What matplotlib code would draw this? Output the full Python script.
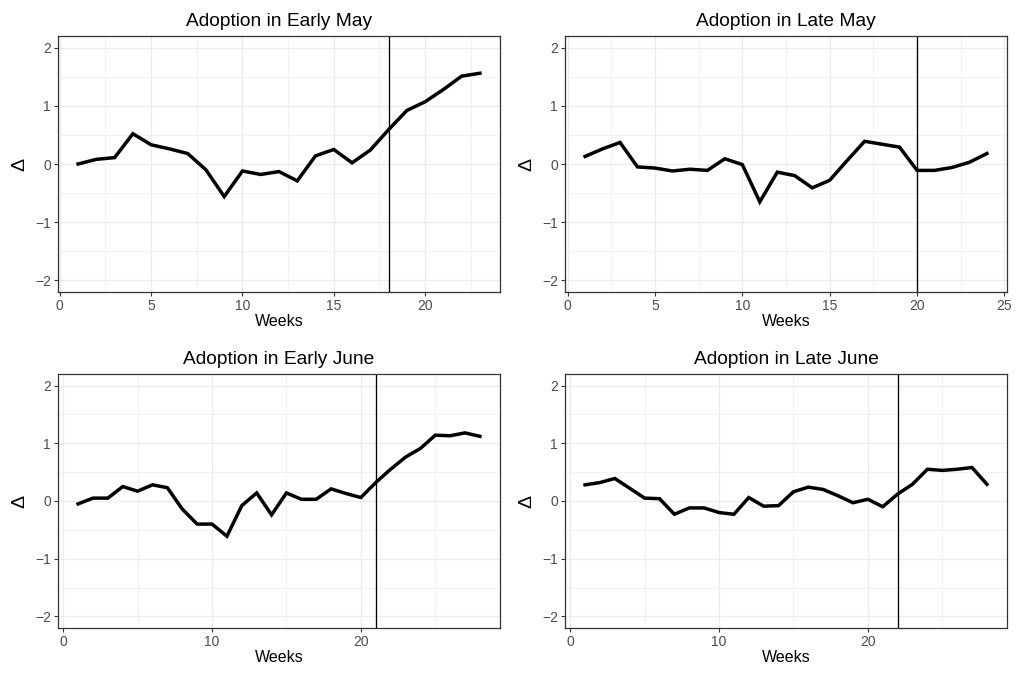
import numpy as np
import matplotlib
matplotlib.use("Agg")
import matplotlib.pyplot as plt
from matplotlib.ticker import MultipleLocator

plt.rcParams["font.family"] = ["Liberation Sans", "DejaVu Sans"]

# Delta by week for each adoption cohort
titles = ["Adoption in Early May", "Adoption in Late May",
          "Adoption in Early June", "Adoption in Late June"]

early_may = [0.00, 0.08, 0.11, 0.52, 0.33, 0.26, 0.18, -0.10, -0.56, -0.12,
             -0.18, -0.13, -0.29, 0.14, 0.25, 0.02, 0.24, 0.59, 0.92, 1.07,
             1.28, 1.51, 1.56]
late_may = [0.13, 0.26, 0.37, -0.05, -0.07, -0.12, -0.09, -0.11, 0.09, -0.01,
            -0.65, -0.14, -0.20, -0.41, -0.28, 0.06, 0.39, 0.34, 0.29, -0.11,
            -0.11, -0.06, 0.03, 0.18]
early_june = [-0.05, 0.05, 0.05, 0.25, 0.17, 0.28, 0.23, -0.14, -0.40, -0.40,
              -0.61, -0.08, 0.14, -0.24, 0.14, 0.03, 0.03, 0.21, 0.13, 0.06,
              0.32, 0.55, 0.76, 0.91, 1.14, 1.13, 1.18, 1.12]
late_june = [0.28, 0.32, 0.39, 0.22, 0.05, 0.04, -0.23, -0.12, -0.12, -0.20,
             -0.23, 0.06, -0.09, -0.08, 0.16, 0.24, 0.20, 0.09, -0.03, 0.03,
             -0.10, 0.12, 0.29, 0.55, 0.53, 0.55, 0.58, 0.29]

series = [early_may, late_may, early_june, late_june]
adoption_week = [18, 20, 21, 22]
x_step = [5, 5, 10, 10]

W, H = 1016, 673
fig = plt.figure(figsize=(W / 100, H / 100), dpi=100)

# panel boxes in pixels: left, top, right, bottom
boxes = [(58, 36, 500, 292), (565, 36, 1007, 292),
         (58, 374, 500, 628), (565, 374, 1007, 628)]

for i in range(4):
    l, t, r, b = boxes[i]
    ax = fig.add_axes([l / W, 1 - b / H, (r - l) / W, (b - t) / H])
    y = np.array(series[i])
    x = np.arange(1, len(y) + 1)

    ax.plot(x, y, color="black", lw=2.5, solid_joinstyle="miter", zorder=3)
    ax.axvline(adoption_week[i], color="black", lw=0.95, zorder=2)

    span = x[-1] - x[0]
    ax.set_xlim(x[0] - 0.05 * span, x[-1] + 0.05 * span)
    ax.set_ylim(-2.2, 2.2)
    ax.xaxis.set_major_locator(MultipleLocator(x_step[i]))
    ax.xaxis.set_minor_locator(MultipleLocator(x_step[i] / 2))
    ax.yaxis.set_major_locator(MultipleLocator(1))
    ax.yaxis.set_minor_locator(MultipleLocator(0.5))
    ax.yaxis.set_major_formatter(plt.FuncFormatter(
        lambda v, p: ("\u2212%d" % -v) if v < 0 else "%d" % v))

    ax.grid(which="major", color="#EBEBEB", lw=1.0, zorder=0)
    ax.grid(which="minor", color="#F2F2F2", lw=0.8, zorder=0)
    ax.set_axisbelow(True)
    for s in ax.spines.values():
        s.set_color("#333333")
        s.set_linewidth(0.9)
    ax.tick_params(which="major", length=3, width=0.8, color="#333333",
                   labelcolor="#4D4D4D", labelsize=10, pad=2)
    ax.tick_params(which="minor", length=0)

    ax.set_title(titles[i], fontsize=13.8, pad=7)
    ax.set_xlabel("Weeks", fontsize=11.5, labelpad=1)
    ax.set_ylabel("\u0394", fontsize=14, labelpad=5)

fig.savefig("out.png", dpi=100)
